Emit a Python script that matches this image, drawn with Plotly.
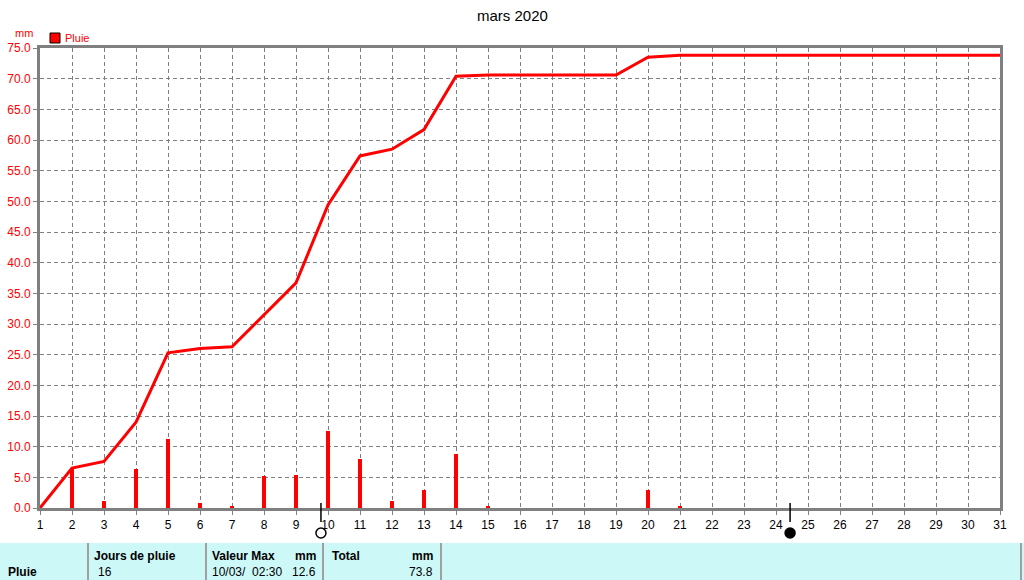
import plotly.graph_objects as go

days = list(range(1, 32))
daily_rain = [0, 6.5, 1.1, 6.4, 11.3, 0.8, 0.3, 5.2, 5.3, 12.6, 8.0, 1.1, 3.0, 8.8, 0.2,
              0, 0, 0, 0, 3.0, 0.2, 0, 0, 0, 0, 0, 0, 0, 0, 0, 0]
cumul_rain = [0, 6.5, 7.6, 14.0, 25.3, 26.0, 26.3, 31.5, 36.7, 49.4, 57.4, 58.5, 61.7, 70.4, 70.6,
              70.6, 70.6, 70.6, 70.6, 73.5, 73.8, 73.8, 73.8, 73.8, 73.8, 73.8, 73.8, 73.8, 73.8, 73.8, 73.8]
y_ticks = [0, 5, 10, 15, 20, 25, 30, 35, 40, 45, 50, 55, 60, 65, 70, 75]
moon_days = [9.78, 24.44]
moon_filled = [False, True]

title = "mars 2020"
table_headers = ["Jours de pluie", "Valeur Max", "mm", "Total", "mm"]
table_values = ["16", "10/03/  02:30", "12.6", "73.8"]

W, H = 1024, 580
L, R, T, B = 40, 24, 48, 72
pw, ph = W - L - R, H - T - B

def px(x):
    return (x - L) / pw

def py(y):
    return (H - B - y) / ph

FONT = "Liberation Sans"
GRID = "#808080"

fig = go.Figure()
fig.add_trace(go.Bar(x=days, y=daily_rain, width=0.1, marker=dict(color="#ff0000", line=dict(width=0)),
                     showlegend=False, hoverinfo="x+y"))
fig.add_trace(go.Scatter(x=days, y=cumul_rain, mode="lines", line=dict(color="#ff0000", width=3),
                         showlegend=False))

shapes = []
# moon tick marks and symbols
r_days = 5 / 32
for d, filled in zip(moon_days, moon_filled):
    shapes.append(dict(type="line", xref="x", yref="paper", x0=d, x1=d, y0=py(503), y1=py(522),
                       line=dict(color="black", width=1.5)))
    shapes.append(dict(type="circle", xref="x", yref="paper", x0=d - r_days, x1=d + r_days,
                       y0=py(538), y1=py(528),
                       fillcolor="black" if filled else "white", line=dict(color="black", width=1.5)))
# legend square
shapes.append(dict(type="rect", xref="paper", yref="paper", x0=px(50), x1=px(60), y0=py(43), y1=py(33),
                   fillcolor="#ff0000", line=dict(color="black", width=1)))
# table background
shapes.append(dict(type="rect", xref="paper", yref="paper", x0=px(0), x1=px(W), y0=py(543), y1=py(H + 2),
                   fillcolor="#ccf8f8", line=dict(width=0), layer="below"))
for xl in [88, 206, 323, 441, 1021]:
    shapes.append(dict(type="line", xref="paper", yref="paper", x0=px(xl), x1=px(xl), y0=py(543), y1=py(H + 2),
                       line=dict(color="#a0a0a0", width=2)))

ann = []
def txt(x, y, s, color="black", size=12, bold=False, xanchor="left"):
    ann.append(dict(xref="paper", yref="paper", x=px(x), y=py(y), text=f"<b>{s}</b>" if bold else s,
                    showarrow=False, xanchor=xanchor, yanchor="middle",
                    font=dict(family=FONT, size=size, color=color)))

txt(512, 15, title, size=15, xanchor="center")
txt(13, 33, "mm", color="#ff0000", size=11)
txt(63, 38, "Pluie", color="#ff0000", size=11)
txt(6, 572, "Pluie", bold=True)
txt(92, 556, table_headers[0], bold=True)
txt(96, 572, table_values[0])
txt(210, 556, table_headers[1], bold=True)
txt(318, 556, table_headers[2], bold=True, xanchor="right")
txt(210, 572, table_values[1])
txt(318, 572, table_values[2], xanchor="right")
txt(330, 556, table_headers[3], bold=True)
txt(435, 556, table_headers[4], bold=True, xanchor="right")
txt(435, 572, table_values[3], xanchor="right")

fig.update_layout(
    width=W, height=H, margin=dict(l=L, r=R, t=T, b=B, autoexpand=False),
    paper_bgcolor="white", plot_bgcolor="white", showlegend=False,
    shapes=shapes, annotations=ann, bargap=0,
    font=dict(family=FONT, size=12, color="black"),
)
fig.update_xaxes(range=[1, 31], tickmode="array", tickvals=days, ticktext=[str(d) for d in days],
                 showgrid=True, gridcolor=GRID, griddash="4px,3px", gridwidth=1,
                 showline=True, linecolor=GRID, linewidth=3, mirror=True,
                 ticks="outside", ticklen=4, tickcolor=GRID, tickfont=dict(color="black", size=12),
                 zeroline=False, fixedrange=True)
fig.update_yaxes(range=[0, 75], tickmode="array", tickvals=y_ticks, ticktext=[f"{v:.1f}" for v in y_ticks],
                 showgrid=True, gridcolor=GRID, griddash="4px,3px", gridwidth=1,
                 showline=True, linecolor=GRID, linewidth=3, mirror=True,
                 ticks="outside", ticklen=4, tickcolor=GRID, tickfont=dict(color="#ff0000", size=12),
                 zeroline=False, fixedrange=True)

fig.write_html("out.html", config={"displayModeBar": False},
               post_script="document.body.style.margin='0';document.body.style.overflow='hidden';")
